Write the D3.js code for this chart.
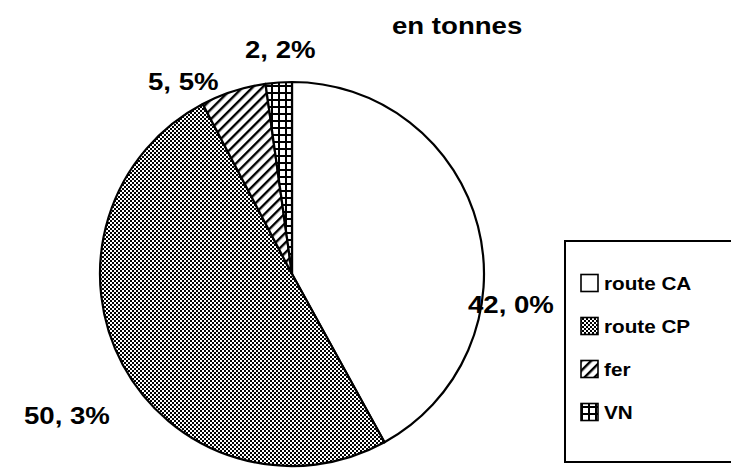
<!DOCTYPE html>
<html><head><meta charset="utf-8">
<script src="https://cdn.jsdelivr.net/npm/d3@7"></script>
<style>html,body{margin:0;padding:0;background:#fff;}svg{display:block;}</style>
</head><body>
<script>
const categories = ["route CA", "route CP", "fer", "VN"];
const values = [42.0, 50.3, 5.5, 2.2];
const labels = ["42, 0%", "50, 3%", "5, 5%", "2, 2%"];
const title = "en tonnes";
const patterns = ["none", "stipple", "hatch", "grid"];

const W = 731, H = 468;
const svg = d3.select("body").append("svg").attr("width", W).attr("height", H);
const defs = svg.append("defs");

const p1 = defs.append("pattern").attr("id", "stipple").attr("patternUnits", "userSpaceOnUse")
  .attr("width", 4).attr("height", 4);
p1.append("rect").attr("width", 4).attr("height", 4).attr("fill", "#fff");
p1.append("rect").attr("x", 0).attr("y", 0).attr("width", 2).attr("height", 2).attr("fill", "#000");
p1.append("rect").attr("x", 2).attr("y", 2).attr("width", 2).attr("height", 2).attr("fill", "#000");
const p2 = defs.append("pattern").attr("id", "hatch").attr("patternUnits", "userSpaceOnUse")
  .attr("width", 7).attr("height", 7).attr("patternTransform", "rotate(45)");
p2.append("rect").attr("width", 7).attr("height", 7).attr("fill", "#fff");
p2.append("rect").attr("x", 0).attr("y", 0).attr("width", 2.4).attr("height", 7).attr("fill", "#000");
const p3 = defs.append("pattern").attr("id", "grid").attr("patternUnits", "userSpaceOnUse")
  .attr("width", 7).attr("height", 7);
p3.append("rect").attr("width", 7).attr("height", 7).attr("fill", "#fff");
p3.append("rect").attr("x", 0).attr("y", 0).attr("width", 2).attr("height", 7).attr("fill", "#000");
p3.append("rect").attr("x", 0).attr("y", 0).attr("width", 7).attr("height", 2).attr("fill", "#000");

const fillFor = p => p === "none" ? "#fff" : `url(#${p})`;

const cx = 292, cy = 274, r = 192;
const pie = d3.pie().sort(null).value(d => d)(values);
const arc = d3.arc().innerRadius(0).outerRadius(r);

const g = svg.append("g").attr("transform", `translate(${cx},${cy})`);
g.selectAll("path").data(pie).join("path")
  .attr("d", arc)
  .attr("fill", (d, i) => fillFor(patterns[i]))
  .attr("stroke", "#000").attr("stroke-width", 2.2).attr("stroke-linejoin", "round");

const font = "'Liberation Sans', Arial, Helvetica, sans-serif";
const txt = (x, y, s, size, sx) => svg.append("text")
  .attr("transform", `translate(${x},${y}) scale(${sx},1)`)
  .attr("font-family", font).attr("font-size", size).attr("font-weight", "bold")
  .attr("fill", "#000").text(s);

txt(392, 34, title, 23, 1.2);
const labelPos = [[468, 313], [24, 424], [148, 90], [245, 58]];
labels.forEach((l, i) => txt(labelPos[i][0], labelPos[i][1], l, 23, 1.2));

// legend
const lg = svg.append("g");
lg.append("path").attr("d", `M${W + 5},241 H565 V462 H${W + 5}`)
  .attr("fill", "#fff").attr("stroke", "#000").attr("stroke-width", 2);
const ly = d3.scalePoint().domain(categories).range([283, 412]);
categories.forEach((c, i) => {
  const y = ly(c);
  lg.append("rect").attr("x", 581).attr("y", y - 8.5).attr("width", 17).attr("height", 17)
    .attr("fill", fillFor(patterns[i])).attr("stroke", "#000").attr("stroke-width", 1.6);
  txt(604, y + 7, c, 18, 1.15);
});
</script>
</body></html>
